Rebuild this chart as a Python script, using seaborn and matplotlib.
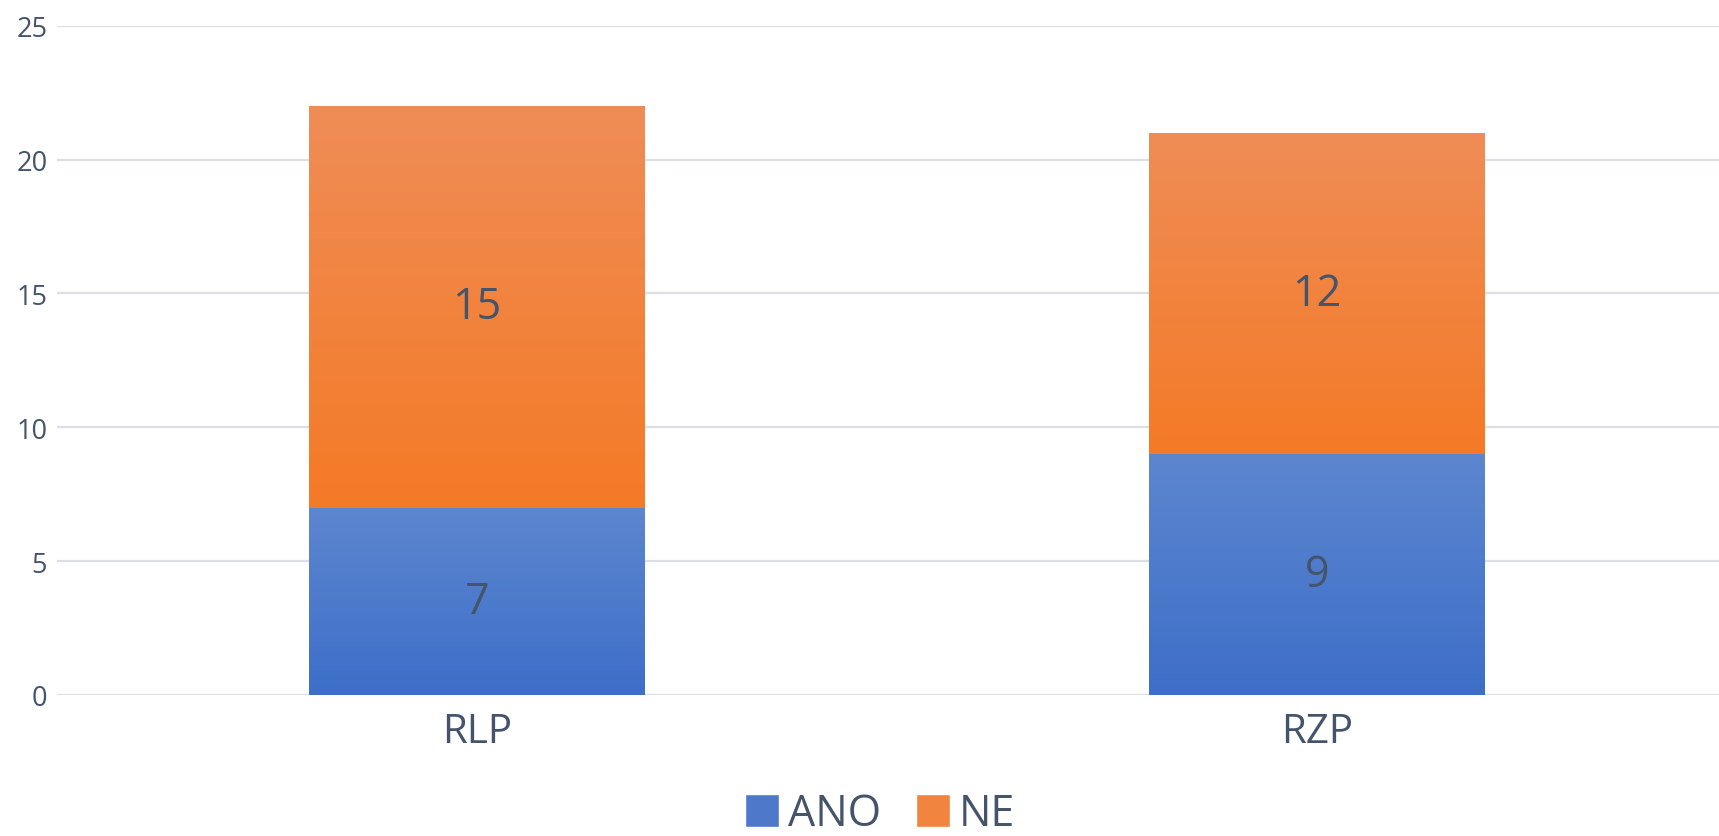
import numpy as np
import pandas as pd
import seaborn as sns
import matplotlib.pyplot as plt
from matplotlib.patches import Patch
from matplotlib.colors import LinearSegmentedColormap

categories = ["RLP", "RZP"]
ano_values = [7, 9]
ne_values = [15, 12]
series_names = ["ANO", "NE"]
y_ticks = [0, 5, 10, 15, 20, 25]

sns.set_theme(style="white")
plt.rcParams['font.family'] = ['Open Sans', 'DejaVu Sans']
TXT = "#44546A"

W, H = 1719, 837
fig = plt.figure(figsize=(W / 100, H / 100), dpi=100)
ax_left, ax_bottom_px, ax_top_px = 57, 696, 26.7
ax = fig.add_axes([ax_left / W, 1 - ax_bottom_px / H, 1680 / W, (ax_bottom_px - ax_top_px) / H])

totals = [a + n for a, n in zip(ano_values, ne_values)]
df_tot = pd.DataFrame({"cat": categories, "val": totals})
df_ano = pd.DataFrame({"cat": categories, "val": ano_values})

sns.barplot(data=df_tot, x="cat", y="val", color="#F1843E", width=0.4, ax=ax, linewidth=0, saturation=1)
sns.barplot(data=df_ano, x="cat", y="val", color="#4E79CB", width=0.4, ax=ax, linewidth=0, saturation=1)

ax.set_xlim(-0.5, 1.5)
ax.set_ylim(0, 25)
ax.set_yticks(y_ticks)
ax.set_xlabel("")
ax.set_ylabel("")

# gradients
cm_orange = LinearSegmentedColormap.from_list("o", ["#F47A26", "#EF8D57"])
cm_blue = LinearSegmentedColormap.from_list("b", ["#3D6FC8", "#5D86CF"])
grad = np.linspace(0, 1, 256).reshape(-1, 1)
n = len(categories)
for i, p in enumerate(ax.patches):
    x0, y0 = p.get_x(), p.get_y()
    w, h = p.get_width(), p.get_height()
    if i < n:
        cmap = cm_orange
        y0 = ano_values[i]
        h = ne_values[i]
    else:
        cmap = cm_blue
    im = ax.imshow(grad, extent=[x0, x0 + w, y0, y0 + h], origin="lower", cmap=cmap,
                   aspect="auto", zorder=p.get_zorder() + 0.1 + (1 if i >= n else 0), interpolation="bicubic")
    im.set_clip_path(p)
ax.set_xlim(-0.5, 1.5)
ax.set_ylim(0, 25)

# bar labels
for i in range(n):
    ax.text(i, ano_values[i] / 2, str(ano_values[i]), ha="center", va="center",
            fontsize=31, color=TXT, zorder=10)
    ax.text(i, ano_values[i] + ne_values[i] / 2, str(ne_values[i]), ha="center", va="center",
            fontsize=31, color=TXT, zorder=10)

ax.grid(axis="y", color="#DCDFE6", linewidth=1.6)
ax.set_axisbelow(True)
for s in ax.spines.values():
    s.set_visible(False)
ax.tick_params(axis="y", length=0, pad=7, labelsize=19.5, labelcolor=TXT)
ax.tick_params(axis="x", length=0, pad=12, labelsize=29, labelcolor=TXT)

handles = [Patch(facecolor="#4E79CB", label=series_names[0]),
           Patch(facecolor="#F1843E", label=series_names[1])]
fig.legend(handles=handles, loc="lower center", bbox_to_anchor=(880 / W, -22 / H),
           ncol=2, frameon=False, fontsize=31, labelcolor=TXT, handlelength=0.8,
           handleheight=0.8, handletextpad=0.2, columnspacing=0.8, borderpad=0)

fig.savefig("out.png", dpi=100)
